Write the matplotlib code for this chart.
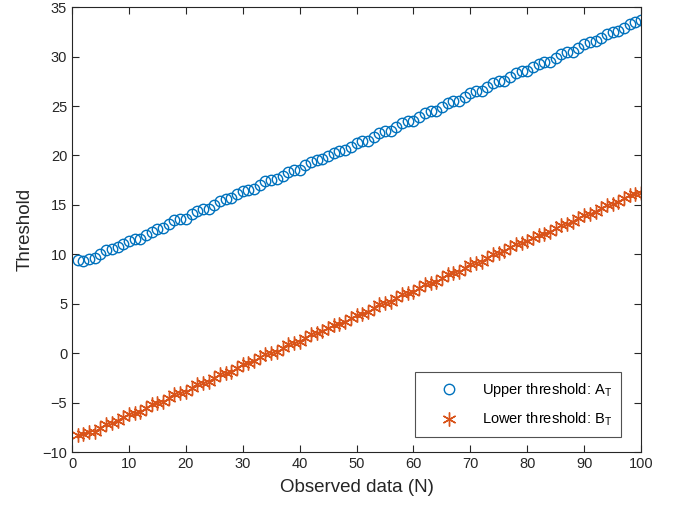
import matplotlib
matplotlib.use("Agg")
import matplotlib.pyplot as plt
import numpy as np

plt.rcParams['font.family'] = ['Liberation Sans', 'DejaVu Sans']
plt.rcParams['mathtext.fontset'] = 'custom'
plt.rcParams['mathtext.rm'] = 'Liberation Sans'
plt.rcParams['mathtext.it'] = 'Liberation Sans'

observed_n = list(range(1, 101))
upper_threshold = [
    9.4, 9.3, 9.5, 9.6, 10.0, 10.4, 10.5, 10.7, 11.0, 11.4,
    11.6, 11.6, 12.0, 12.3, 12.6, 12.7, 13.1, 13.5, 13.6, 13.6,
    14.1, 14.4, 14.6, 14.6, 15.0, 15.4, 15.6, 15.7, 16.1, 16.4,
    16.5, 16.6, 17.0, 17.4, 17.5, 17.6, 17.9, 18.3, 18.5, 18.5,
    19.0, 19.3, 19.5, 19.6, 19.9, 20.3, 20.5, 20.6, 20.9, 21.3,
    21.5, 21.5, 21.9, 22.3, 22.5, 22.5, 22.9, 23.3, 23.5, 23.5,
    23.9, 24.3, 24.5, 24.5, 24.9, 25.3, 25.5, 25.5, 25.9, 26.3,
    26.5, 26.5, 26.9, 27.3, 27.5, 27.5, 27.9, 28.3, 28.5, 28.5,
    28.9, 29.3, 29.5, 29.5, 29.9, 30.3, 30.5, 30.5, 30.9, 31.3,
    31.5, 31.6, 31.9, 32.3, 32.5, 32.6, 32.9, 33.3, 33.5, 33.7,
]
lower_threshold = [
    -8.3, -8.2, -8.0, -8.0, -7.6, -7.2, -7.1, -6.9, -6.5, -6.1,
    -6.0, -5.9, -5.5, -5.1, -5.0, -4.9, -4.5, -4.1, -4.0, -3.9,
    -3.5, -3.1, -3.0, -2.9, -2.5, -2.1, -2.0, -1.9, -1.5, -1.1,
    -1.0, -0.8, -0.4, -0.1, 0.0, 0.1, 0.5, 0.9, 1.0, 1.1,
    1.5, 1.9, 2.0, 2.2, 2.6, 2.9, 3.0, 3.2, 3.6, 3.9,
    4.0, 4.2, 4.6, 5.0, 5.1, 5.2, 5.6, 6.0, 6.1, 6.2,
    6.6, 7.0, 7.1, 7.2, 7.6, 8.0, 8.1, 8.2, 8.6, 9.0,
    9.1, 9.2, 9.6, 10.0, 10.1, 10.3, 10.7, 11.0, 11.1, 11.3,
    11.7, 12.0, 12.1, 12.3, 12.7, 13.0, 13.1, 13.3, 13.7, 14.0,
    14.1, 14.3, 14.7, 15.0, 15.1, 15.3, 15.7, 16.0, 16.1, 16.2,
]

blue = (0.0, 0.447, 0.741)
orange = (0.85, 0.325, 0.098)

fig = plt.figure(figsize=(6.75, 5.12), dpi=100)
ax = fig.add_axes([0.1067, 0.117, 0.843, 0.869])

ax.plot(observed_n, upper_threshold, linestyle='none', marker='o', markersize=7.5,
        markerfacecolor='none', markeredgecolor=blue, markeredgewidth=1.0,
        label=r'Upper threshold: A$_{\mathrm{T}}$')
ax.plot(observed_n, lower_threshold, linestyle='none', marker=(6, 2, 0), markersize=10,
        color=orange, markeredgecolor=orange, markeredgewidth=1.0,
        label=r'Lower threshold: B$_{\mathrm{T}}$')

ax.set_xlim(0, 100)
ax.set_ylim(-10, 35)
ax.set_xticks(np.arange(0, 101, 10))
ax.set_yticks(np.arange(-10, 36, 5))
ax.tick_params(direction='in', top=True, right=True, length=5, width=0.8,
               labelsize=10.5, colors='#262626', labelcolor='#262626')
for s in ax.spines.values():
    s.set_color('#262626')
    s.set_linewidth(0.8)

ax.set_xlabel('Observed data (N)', fontsize=13.5, color='#262626', labelpad=6)
ax.set_ylabel('Threshold', fontsize=13.5, color='#262626', labelpad=6)

leg = ax.legend(loc='lower right', fontsize=10.5, frameon=True, fancybox=False,
                edgecolor='#262626', borderpad=0.6, handletextpad=0.6,
                handlelength=3.4, labelspacing=0.8, borderaxespad=0,
                bbox_to_anchor=(0.965, 0.034))
leg.get_frame().set_linewidth(0.8)

fig.savefig('out.png', dpi=100)
